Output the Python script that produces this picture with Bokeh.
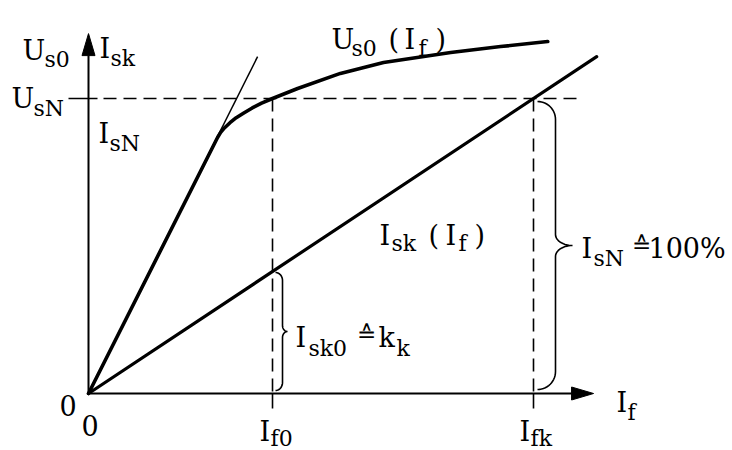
import math
from bokeh.plotting import figure
from bokeh.models import Range1d, ColumnDataSource
from bokeh.core.properties import value
from bokeh.embed import file_html
from bokeh.resources import INLINE

# ---------------- data (normalised: I_fk = 1, U_sN = I_sN = 1) ----------------
# no-load characteristic U_s0(I_f)
If_curve = [0.0, 0.290, 0.297, 0.306, 0.318, 0.332, 0.349, 0.368, 0.389, 0.4135,
            0.470, 0.566, 0.663, 0.814, 0.926, 1.032]
Us0_curve = [0.0, 0.868, 0.885, 0.901, 0.918, 0.935, 0.951, 0.968, 0.984, 1.000,
             1.034, 1.085, 1.122, 1.156, 1.176, 1.193]
# air-gap line (tangent)
If_gap = [0.0, 0.380]
Us_gap = [0.0, 1.142]
# short-circuit characteristic I_sk(I_f)
If_sk = [0.0, 1.142]
Isk_line = [0.0, 1.142]
# characteristic values
If0 = 0.4135
Ifk = 1.0
UsN = 1.0
Isk0 = 0.4135
x_axis_end = 1.135
y_axis_end = 1.22

# ---------------- layout helpers (page pixel <-> data) ----------------
OX, OY, SX, SY = 88.0, 393.0, 445.0, 295.0
W, H = 732, 450
def X(px): return (px - OX) / SX
def Y(py): return (OY - py) / SY
def PX(x): return OX + SX * x
def PY(y): return OY - SY * y

p = figure(width=W, height=H, output_backend="svg", toolbar_location=None,
           x_range=Range1d(X(0), X(W)), y_range=Range1d(Y(H), Y(0)),
           min_border=0, outline_line_color=None)
p.axis.visible = False
p.grid.visible = False
p.background_fill_color = "white"
p.border_fill_color = "white"

BLACK = "black"
DASH = "13 7"

# axes with arrow heads
head_len, head_half = 22, 6.5
p.line([0, 0], [0, y_axis_end - head_len / SY], line_color=BLACK, line_width=2)
p.line([0, x_axis_end - head_len / SX], [0, 0], line_color=BLACK, line_width=2)
p.patches([[X(PX(0) - head_half), 0.0, X(PX(0) + head_half)],
           [x_axis_end - head_len / SX, x_axis_end, x_axis_end - head_len / SX]],
          [[y_axis_end - head_len / SY, y_axis_end, y_axis_end - head_len / SY],
           [head_half / SY, 0.0, -head_half / SY]],
          fill_color=BLACK, line_color=BLACK, line_width=1)

# reference lines
p.line([X(68), X(97)], [UsN, UsN], line_color=BLACK, line_width=1.6)
p.line([X(103), X(578)], [UsN, UsN], line_color=BLACK, line_width=1.6, line_dash=DASH)
for xv in (If0, Ifk):
    p.line([xv, xv], [UsN, 0], line_color=BLACK, line_width=1.6, line_dash=DASH)
    p.line([xv, xv], [0, Y(408)], line_color=BLACK, line_width=1.6)

# characteristics
p.line(If_gap, Us_gap, line_color=BLACK, line_width=1.5)
p.line(If_sk, Isk_line, line_color=BLACK, line_width=3.2, line_cap="round")
p.line(If_curve, Us0_curve, line_color=BLACK, line_width=3.6, line_cap="round", line_join="round")

# curly braces
def brace(x0, ytop, ybot, d, t, r_end, r_mid, n=14):
    ymid = (ytop + ybot) / 2.0
    xs, ys = [], []
    for i in range(n + 1):
        th = math.pi / 2 * i / n
        xs.append(x0 + d * math.sin(th)); ys.append(ytop + r_end - r_end * math.cos(th))
    for i in range(n + 1):
        ph = math.pi / 2 * i / n
        xs.append(x0 + d + t - t * math.cos(ph)); ys.append(ymid - r_mid + r_mid * math.sin(ph))
    for i in range(n + 1):
        ph = math.pi / 2 * (1 - i / n)
        xs.append(x0 + d + t - t * math.cos(ph)); ys.append(ymid + r_mid - r_mid * math.sin(ph))
    for i in range(n + 1):
        th = math.pi / 2 * (1 - i / n)
        xs.append(x0 + d * math.sin(th)); ys.append(ybot - r_end + r_end * math.cos(th))
    return [X(v) for v in xs], [Y(v) for v in ys]

bx, by = brace(PX(Ifk) + 4, PY(UsN) + 3, PY(0) - 4, 18, 17, 18, 11)
p.line(bx, by, line_color=BLACK, line_width=1.6)
sx, sy = brace(PX(If0) + 3, PY(Isk0) + 1, PY(0) - 3, 7, 5, 8, 6)
p.line(sx, sy, line_color=BLACK, line_width=1.6)

# texts (left x, baseline y in page pixels)
main = [("U", 22, 50), ("I", 99, 48), ("U", 11, 98), ("I", 98, 133),
        ("0", 59, 405), ("0", 81, 425),
        ("I", 259, 431), ("I", 519, 431), ("I", 616, 402),
        ("U", 331, 39), ("(", 388, 39), ("I", 404, 39), (")", 435, 39),
        ("I", 379, 235), ("(", 428, 235), ("I", 445, 235), (")", 474, 235),
        ("I", 295, 337), ("k", 378, 337),
        ("I", 581, 248), ("100%", 648, 248)]
sub = [("s0", 44, 59), ("sk", 110, 58), ("sN", 33, 108), ("sN", 109, 143),
       ("f0", 270, 438), ("fk", 530, 438), ("f", 627, 412),
       ("s0", 351, 48), ("f", 418, 48), ("sk", 391, 243), ("f", 458, 243),
       ("sk0", 308, 348), ("k", 396, 348), ("sN", 593, 258)]
symbols = [("\u2259", 356, 333), ("\u2259", 631, 244)]

for items, size in ((main, "27px"), (sub, "22px"), (symbols, "23px")):
    src = ColumnDataSource(dict(x=[X(a[1]) for a in items], y=[Y(a[2]) for a in items],
                                t=[a[0] for a in items]))
    p.text(x="x", y="y", text="t", source=src, text_font=value("DejaVu Serif"),
           text_font_size=value(size), text_color=BLACK,
           text_align="left", text_baseline="alphabetic")

open("out.html", "w").write(file_html(p, INLINE))
